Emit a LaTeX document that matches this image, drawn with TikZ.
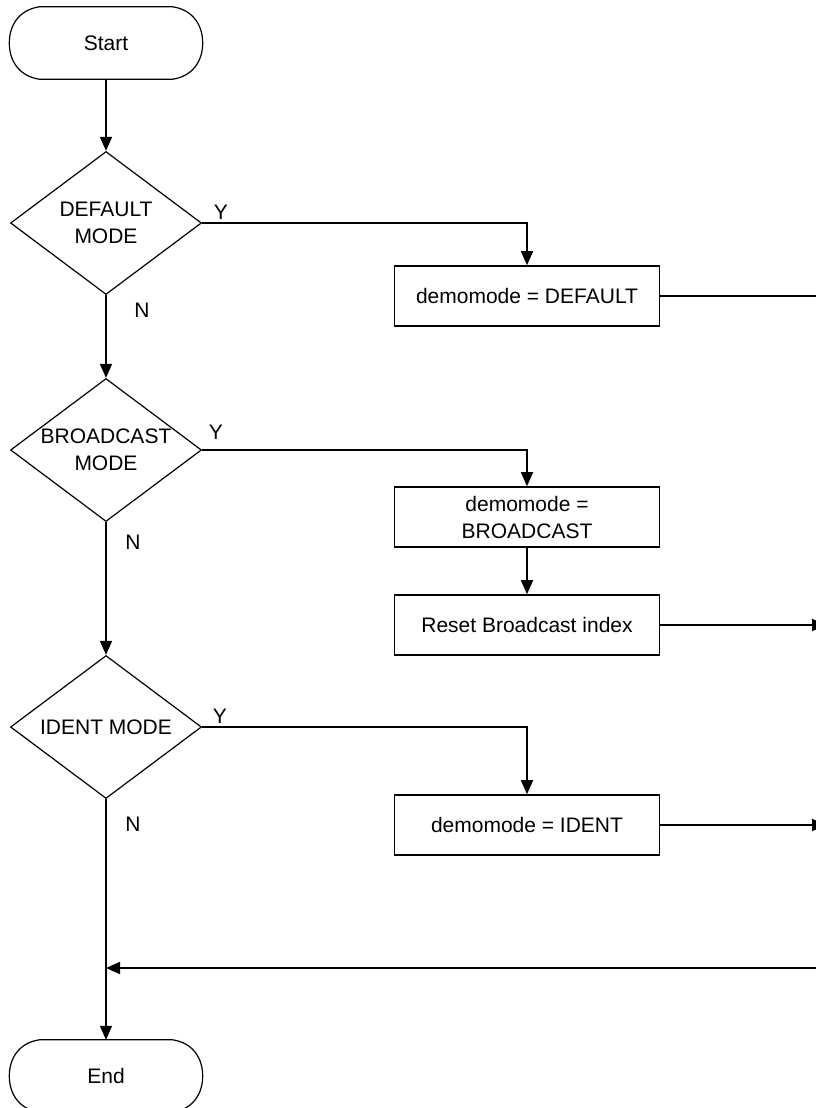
\documentclass[tikz,border=0pt]{standalone}
\usepackage{fontspec}
\setmainfont{Liberation Sans}
\usetikzlibrary{arrows.meta,shapes.geometric,calc}
\newcommand\termoutline[1]{%
 \draw[termline] ($(#1.north west)+(30,0)$) -- ($(#1.north east)+(-30,0)$)
   .. controls ($(#1.north east)+(-10,3)$) and ($(#1.east)+(0,-18)$) .. (#1.east)
   .. controls ($(#1.east)+(0,18)$) and ($(#1.south east)+(-10,-3)$) .. ($(#1.south east)+(-30,0)$)
   -- ($(#1.south west)+(30,0)$)
   .. controls ($(#1.south west)+(10,-3)$) and ($(#1.west)+(0,18)$) .. (#1.west)
   .. controls ($(#1.west)+(0,-18)$) and ($(#1.north west)+(10,3)$) .. cycle;}
\begin{document}
\begin{tikzpicture}[x=1pt,y=-1pt,
  every node/.style={font=\fontsize{21}{27}\selectfont},
  conn/.style={line width=1.6pt, -{Triangle[length=14pt,width=12pt]}},
  plain/.style={line width=1.6pt},
  procbox/.style={draw, line width=1.6pt, minimum width=265pt, minimum height=60pt, inner sep=0pt, align=center},
  decision/.style={draw, diamond, line width=1.2pt, minimum width=191pt, minimum height=143pt, inner sep=0pt},
  termnode/.style={minimum width=193pt, minimum height=72pt, inner sep=0pt},
  termline/.style={line width=1.2pt},
  lbl/.style={inner sep=0pt, align=center},
  yn/.style={inner sep=0pt}
]
\useasboundingbox (0,0) rectangle (816,1108);
\clip (0,0) rectangle (816,1108);
\fill[white] (0,0) rectangle (816,1108);

\node[termnode] (start) at (106,43) {Start};
\termoutline{start}
\node[decision] (d1) at (106,223) {};
\node[lbl] (d1t) at (d1.center) {DEFAULT\\MODE};
\node[procbox] (b1) at (527,296) {demomode = DEFAULT};
\node[decision] (d2) at (106,450) {};
\node[lbl] (d2t) at (d2.center) {BROADCAST\\MODE};
\node[procbox] (b2) at (527,517) {demomode =\\BROADCAST};
\node[procbox] (b3) at (527,625) {Reset Broadcast index};
\node[decision] (d3) at (106,727) {};
\node[lbl] (d3t) at (d3.center) {IDENT MODE};
\node[procbox] (b4) at (527,825) {demomode = IDENT};
\node[termnode] (end) at (106,1076) {End};
\termoutline{end}

\node[yn] (y1) at (221,212) {Y};
\node[yn] (y2) at (216,432) {Y};
\node[yn] (y3) at (220,716) {Y};
\node[yn] (n1) at (142,310) {N};
\node[yn] (n2) at (133,542) {N};
\node[yn] (n3) at (133,824) {N};

\coordinate (r1) at (820,296);
\coordinate (r3) at (826,625);
\coordinate (r4) at (826,825);
\coordinate (rin) at (820,968);

\draw[conn] (start.south) -- (d1.north);
\draw[conn] (d1.south) -- (d2.north);
\draw[conn] (d2.south) -- (d3.north);
\draw[conn] (d3.south) -- (end.north);
\draw[conn] (d1.east) -| (b1.north);
\draw[conn] (d2.east) -| (b2.north);
\draw[conn] (b2.south) -- (b3.north);
\draw[conn] (d3.east) -| (b4.north);
\draw[plain] (b1.east) -- (r1);
\draw[conn] (b3.east) -- (r3);
\draw[conn] (b4.east) -- (r4);
\draw[conn] (rin) -- (rin -| d3.south);
\end{tikzpicture}
\end{document}
